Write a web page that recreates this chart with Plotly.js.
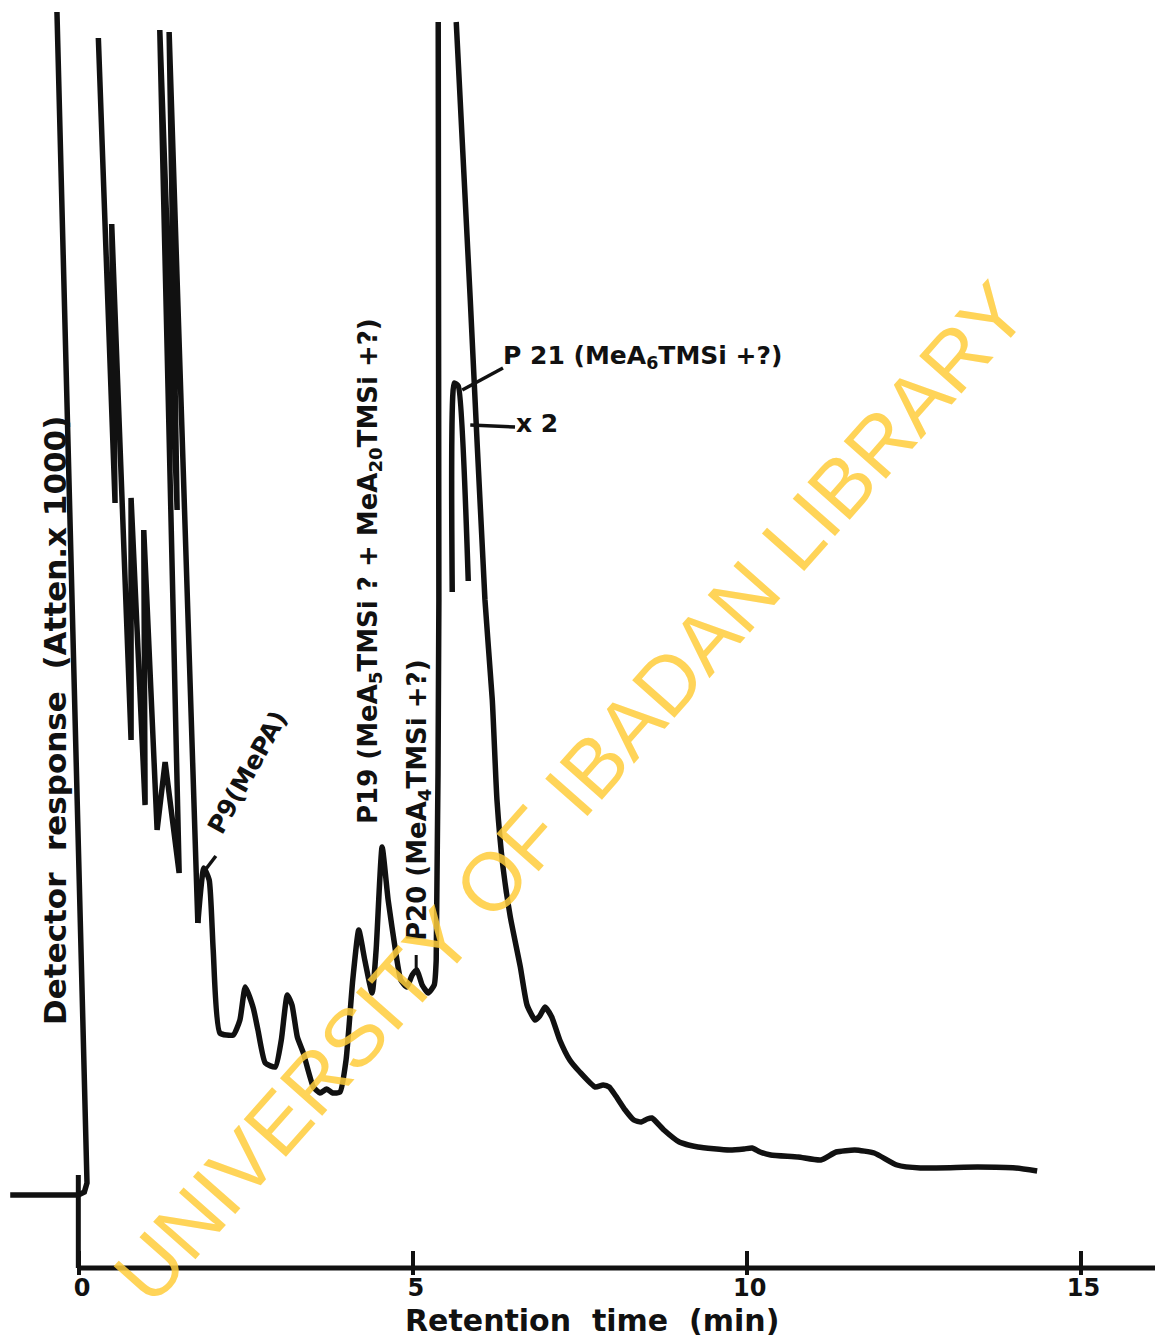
<!DOCTYPE html>
<html>
<head>
<meta charset="utf-8">
<script src="https://cdn.plot.ly/plotly-3.0.1.min.js"></script>
<style>
  html, body { margin: 0; padding: 0; background: #ffffff; }
  #chart { width: 1155px; height: 1339px; }
</style>
</head>
<body>
<div id="chart"></div>
<script>
// Retention time (min) and detector response (arbitrary chart units, x axis = 0).
// null entries mark where the recorder pen went off-scale (gaps in the trace).

// Baseline, solvent front and the crowded early peaks (sharp pen strokes)
const earlyTime = [
  -1.03, -0.50, -0.01, 0.08, 0.12, -0.33, null,
  0.29, 0.54, 0.49, 0.78, 0.78, 0.99, 0.97, 1.17, 1.29, 1.50, 1.21, 1.47, 1.35, 1.78
];
const earlyResponse = [
  0.73, 0.73, 0.73, 0.76, 0.85, 12.56, null,
  12.30, 7.65, 10.44, 5.28, 7.70, 4.63, 7.38, 4.38, 5.06, 3.95, 12.38, 7.58, 12.36, 3.45
];

// From P9 onwards: P19, P20, the large P21 peak (with x2 inset) and the tail
const lateTime = [
  1.78, 1.87, 1.95, 2.01, 2.11, 2.31, 2.41, 2.49, 2.61, 2.68, 2.79, 2.94, 3.03, 3.12, 3.19,
  3.27, 3.36, 3.51, 3.61, 3.71, 3.80, 3.91, 4.00, 4.10, 4.19, 4.28, 4.39, 4.45, 4.54,
  4.63, 4.75, 4.82, 4.91, 4.99, 5.06, 5.14, 5.23, 5.32, 5.35, 5.39, 5.38, null,
  5.59, 5.62, 5.68, 5.83, null,
  5.65, 5.86, 6.08, 6.19, 6.26, 6.35, 6.46, 6.61, 6.71, 6.83, 6.90, 6.98, 7.08, 7.20,
  7.35, 7.50, 7.73, 7.85, 7.94, 8.03, 8.18, 8.31, 8.42, 8.51, 8.58, 8.76, 8.99, 9.27,
  9.74, 9.96, 10.08, 10.20, 10.36, 10.77, 11.11, 11.34, 11.62, 11.91, 12.25, 12.60,
  13.46, 14.03, 14.35
];
const lateResponse = [
  3.45, 4.00, 3.88, 3.18, 2.35, 2.33, 2.48, 2.81, 2.60, 2.38, 2.05, 2.01, 2.28, 2.73, 2.63,
  2.31, 2.15, 1.81, 1.75, 1.79, 1.75, 1.76, 2.08, 2.88, 3.38, 3.08, 2.75, 3.18, 4.21,
  3.68, 3.13, 2.88, 2.81, 2.93, 2.98, 2.83, 2.75, 2.83, 3.08, 6.68, 12.46, null,
  6.76, 8.85, 8.82, 6.87, null,
  12.46, 9.68, 6.68, 5.68, 4.68, 4.01, 3.51, 3.01, 2.63, 2.48, 2.52, 2.61, 2.51, 2.28,
  2.08, 1.96, 1.81, 1.83, 1.81, 1.73, 1.58, 1.48, 1.46, 1.49, 1.50, 1.38, 1.26, 1.21,
  1.18, 1.19, 1.20, 1.16, 1.13, 1.11, 1.08, 1.16, 1.18, 1.15, 1.03, 1.00,
  1.01, 1.00, 0.97
];

const tickValues = [0, 5, 10, 15];
const tickLabels = ['0', '5', '10', '15'];

const ink = '#111111';
const fam = 'DejaVu Sans, Liberation Sans, sans-serif';

const traces = [
  {
    x: earlyTime, y: earlyResponse, type: 'scatter', mode: 'lines', connectgaps: false,
    line: {color: ink, width: 5.5, shape: 'linear'}, hoverinfo: 'skip'
  },
  {
    x: lateTime, y: lateResponse, type: 'scatter', mode: 'lines', connectgaps: false,
    line: {color: ink, width: 5.5, shape: 'spline', smoothing: 0.5}, hoverinfo: 'skip'
  }
];

function label(x, y, text, size, angle) {
  return {xref: 'x', yref: 'y', x: x, y: y, text: text, showarrow: false,
          textangle: angle || 0, xanchor: 'center', yanchor: 'middle',
          font: {family: fam, size: size, color: ink, weight: 'bold'}};
}

const layout = {
  width: 1155,
  height: 1339,
  margin: {l: 0, r: 0, t: 0, b: 64, pad: 0},
  paper_bgcolor: '#ffffff',
  plot_bgcolor: '#ffffff',
  showlegend: false,
  hovermode: false,
  xaxis: {
    range: [-1.183, 16.115],
    showgrid: false,
    zeroline: false,
    showline: false,
    ticks: 'inside',
    ticklen: 24,
    tickwidth: 4,
    tickcolor: ink,
    tickvals: tickValues,
    ticktext: tickLabels,
    ticklabelshift: 3,
    ticklabelstandoff: -4,
    tickfont: {family: fam, size: 24, color: ink, weight: 'bold'},
    fixedrange: true
  },
  yaxis: {
    range: [-0.07, 12.68],
    showgrid: false,
    zeroline: false,
    showline: false,
    showticklabels: false,
    ticks: '',
    fixedrange: true
  },
  shapes: [
    {type: 'line', xref: 'x', yref: 'y', x0: 0, x1: 16.2, y0: 0, y1: 0, line: {color: ink, width: 5}},
    {type: 'line', xref: 'x', yref: 'y', x0: -0.01, x1: -0.01, y0: 0, y1: 0.93, line: {color: ink, width: 5}},
    {type: 'line', xref: 'x', yref: 'y', x0: 1.89, x1: 2.05, y0: 3.98, y1: 4.12, line: {color: ink, width: 3.5}},
    {type: 'line', xref: 'x', yref: 'y', x0: 5.74, x1: 6.35, y0: 8.78, y1: 9.00, line: {color: ink, width: 3.5}},
    {type: 'line', xref: 'x', yref: 'y', x0: 5.86, x1: 6.53, y0: 8.43, y1: 8.41, line: {color: ink, width: 3.5}},
    {type: 'line', xref: 'x', yref: 'y', x0: 5.05, x1: 5.05, y0: 3.13, y1: 3.00, line: {color: ink, width: 3}}
  ],
  annotations: [
    {xref: 'paper', yref: 'paper', x: 0.5126, y: -0.0353, text: 'Retention  time  (min)', showarrow: false,
     xanchor: 'center', yanchor: 'middle', font: {family: fam, size: 30, color: ink, weight: 'bold'}},
    label(-0.36, 5.48, 'Detector  response  (Atten.x 1000)', 31, -90),
    label(2.516, 4.96, 'P9(MePA)', 25, -61),
    label(4.343, 6.97, 'P19 (MeA<sub>5</sub>TMSi ? + MeA<sub>20</sub>TMSi +?)', 26, -90),
    label(5.077, 4.68, 'P20 (MeA<sub>4</sub>TMSi +?)', 26, -90),
    label(8.432, 9.11, 'P 21 (MeA<sub>6</sub>TMSi +?)', 25, 0),
    label(6.859, 8.45, 'x 2', 25, 0),
    {xref: 'x', yref: 'y', x: 7.354, y: 4.76, text: 'UNIVERSITY OF IBADAN LIBRARY', showarrow: false,
     textangle: -48.5, xanchor: 'center', yanchor: 'middle', opacity: 0.85,
     font: {family: 'Liberation Sans', size: 82, color: 'rgb(255,205,60)'}}
  ]
};

Plotly.newPlot('chart', traces, layout, {displayModeBar: false, responsive: false});
</script>
</body>
</html>
